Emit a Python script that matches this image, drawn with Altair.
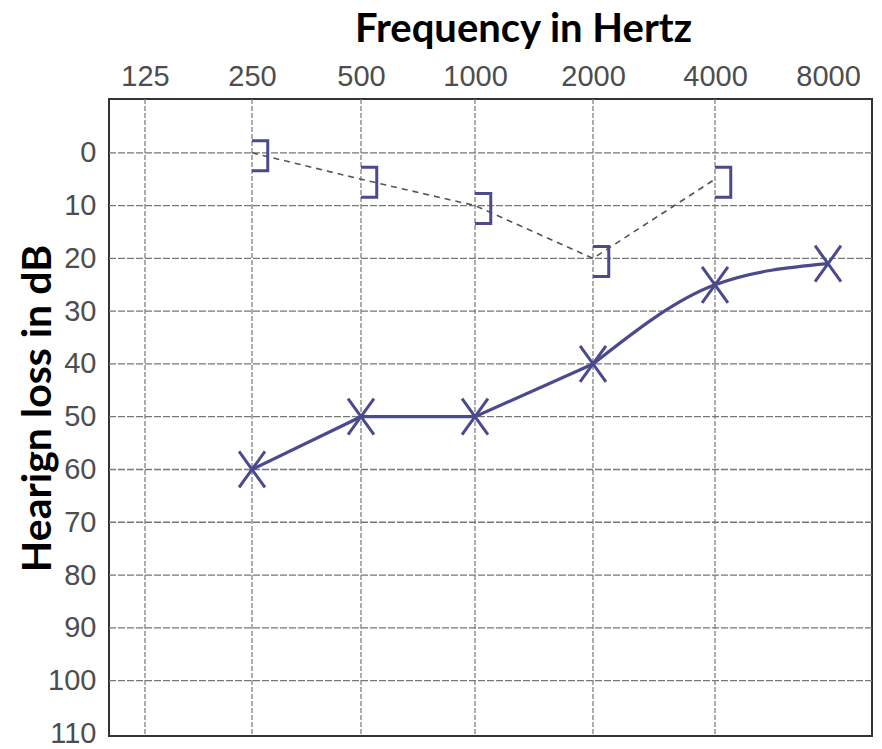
import altair as alt
import pandas as pd

# ---- data ----
freq_labels = [125, 250, 500, 1000, 2000, 4000, 8000]
grid_freqs = [125, 250, 500, 1000, 2000, 4000]
db_labels = [0, 10, 20, 30, 40, 50, 60, 70, 80, 90, 100, 110]
grid_db = [0, 10, 20, 30, 40, 50, 60, 70, 80, 90, 100]

air_freq = [250, 500, 1000, 2000, 4000, 8000]
air_db = [60, 50, 50, 40, 25, 21]

bone_freq = [250, 500, 1000, 2000, 4000]
bone_db = [0, 5, 10, 20, 5]

# scale layout (piecewise log scale, matches the printed audiogram grid)
x_domain = [99, 125, 250, 500, 1000, 2000, 4000, 8000, 10480]
x_range = [0, 36, 143, 252, 366, 484, 606, 719, 763]
y_domain = [-10.2, 110.5]

PURPLE = "#4b4a8e"
GRID = "#777777"
LABEL = "#4d4d4d"

xscale = alt.Scale(type="log", domain=x_domain, range=x_range, nice=False, zero=False)
yscale = alt.Scale(domain=y_domain, reverse=True, nice=False, zero=False)

air = pd.DataFrame({"f": air_freq, "db": air_db})
air_low = air.iloc[:4]   # straight part of the drawn curve
air_high = air.iloc[3:]  # smooth bend towards 8000 Hz
bone = pd.DataFrame({"f": bone_freq, "db": bone_db})
vgrid = pd.DataFrame({"f": grid_freqs})
hgrid = pd.DataFrame({"db": grid_db})

x_axis = alt.Axis(
    orient="top", values=freq_labels, format="d", grid=False, ticks=False, domain=False,
    labelFont="Liberation Sans", labelFontSize=29, labelColor=LABEL,
    labelPadding=14, labelBaseline="alphabetic", labelFlush=False, labelOverlap=False,
    title="Frequency in Hertz", titleFont="Lato", titleFontSize=40, titleFontWeight="bold",
    titleColor="#000000", titleX=414, titleY=-58, titleAlign="center", titleBaseline="alphabetic",
)
y_axis = alt.Axis(
    orient="left", values=db_labels, format="d", grid=False, ticks=False, domain=False,
    labelFont="Liberation Sans", labelFontSize=29, labelColor=LABEL,
    labelPadding=13, labelFlush=False, labelOverlap=False,
    title="Hearign loss in dB", titleFont="Lato", titleFontSize=41, titleFontWeight="bold",
    titleColor="#000000", titleAngle=270, titleX=-59, titleY=309, titleAlign="center",
    titleBaseline="alphabetic",
)

X = alt.X("f:Q", scale=xscale, axis=x_axis)
Y = alt.Y("db:Q", scale=yscale, axis=y_axis)

vrules = alt.Chart(vgrid).mark_rule(color=GRID, strokeWidth=1.2, strokeDash=[5, 2]).encode(x=X)
hrules = alt.Chart(hgrid).mark_rule(color=GRID, strokeWidth=1.3, strokeDash=[7, 2]).encode(y=Y)

bone_line = alt.Chart(bone).mark_line(color="#555555", strokeWidth=1.6, strokeDash=[6, 5]).encode(x=X, y=Y)
BRACKET = "M 0 -0.8 L 1.05 -0.8 L 1.05 1.2 L 0 1.2"
bone_pts = alt.Chart(bone).mark_point(
    shape=BRACKET, size=900, filled=False, strokeWidth=3, color=PURPLE, opacity=1
).encode(x=X, y=Y)

air_line_low = alt.Chart(air_low).mark_line(color=PURPLE, strokeWidth=3.2).encode(x=X, y=Y)
air_line_high = alt.Chart(air_high).mark_line(
    color=PURPLE, strokeWidth=3.2, interpolate="monotone"
).encode(x=X, y=Y)
XSHAPE = "M -0.72 -1 L 0.72 1 M -0.72 1 L 0.72 -1"
air_pts = alt.Chart(air).mark_point(
    shape=XSHAPE, size=1296, filled=False, strokeWidth=3, color=PURPLE, opacity=1
).encode(x=X, y=Y)

chart = alt.layer(vrules, hrules, bone_line, bone_pts, air_line_low, air_line_high, air_pts).properties(
    width=763,
    height=637,
    autosize=alt.AutoSizeParams(type="none"),
    padding={"left": 101, "top": 91, "right": 2, "bottom": 13},
    background="white",
).configure_view(stroke="#333333", strokeWidth=2)

chart.save("out.html", embed_options={"renderer": "svg", "actions": False})
